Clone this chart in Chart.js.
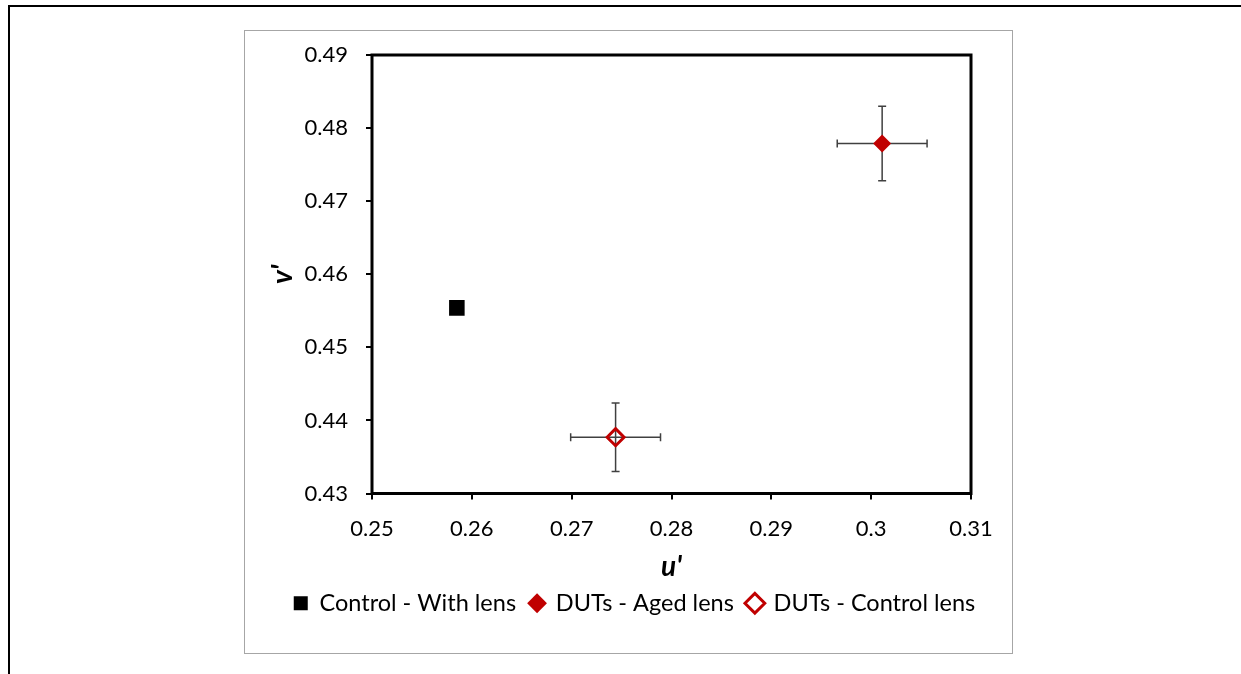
<!DOCTYPE html>
<html>
<head>
<meta charset="utf-8">
<script src="https://cdn.jsdelivr.net/npm/chart.js@4"></script>
<style>
  body { margin: 0; background: #fff; }
  .page { position: relative; width: 1241px; height: 674px; overflow: hidden; }
  .frame { position: absolute; left: 8px; top: 5px; right: -10px; bottom: -10px; border-left: 2px solid #000; border-top: 2px solid #000; }
  .box { position: absolute; left: 244px; top: 30px; width: 767px; height: 622px; border: 1px solid #a6a6a6; }
  canvas { position: absolute; left: 0; top: 0; }
</style>
</head>
<body>
<div class="page">
  <div class="frame"></div>
  <div class="box"></div>
  <canvas id="scatter" width="1241" height="674"></canvas>
</div>
<script>
const seriesNames = ['Control - With lens', 'DUTs - Aged lens', 'DUTs - Control lens']
const uValues = [0.2585, 0.3011, 0.2744]
const vValues = [0.4554, 0.4779, 0.4377]
const uErrors = [0, 0.0045, 0.0045]
const vErrors = [0, 0.0051, 0.0047]
const uTicks = [0.25, 0.26, 0.27, 0.28, 0.29, 0.3, 0.31]
const vTicks = [0.43, 0.44, 0.45, 0.46, 0.47, 0.48, 0.49]

const red = '#c00000'
const font = 'Lato'

// error bars go under the markers so the hollow diamond shows the cross
const errorBars = {
  id: 'errorBars',
  beforeDatasetsDraw(chart) {
    const { ctx, scales: { x, y } } = chart
    ctx.save()
    ctx.strokeStyle = '#404040'
    ctx.lineWidth = 1.5
    seriesNames.forEach((name, i) => {
      if (!uErrors[i] && !vErrors[i]) return
      const cx = x.getPixelForValue(uValues[i])
      const cy = y.getPixelForValue(vValues[i])
      const x0 = x.getPixelForValue(uValues[i] - uErrors[i])
      const x1 = x.getPixelForValue(uValues[i] + uErrors[i])
      const y0 = y.getPixelForValue(vValues[i] + vErrors[i])
      const y1 = y.getPixelForValue(vValues[i] - vErrors[i])
      const cap = 4
      ctx.beginPath()
      ctx.moveTo(x0, cy); ctx.lineTo(x1, cy)
      ctx.moveTo(x0, cy - cap); ctx.lineTo(x0, cy + cap)
      ctx.moveTo(x1, cy - cap); ctx.lineTo(x1, cy + cap)
      ctx.moveTo(cx, y0); ctx.lineTo(cx, y1)
      ctx.moveTo(cx - cap, y0); ctx.lineTo(cx + cap, y0)
      ctx.moveTo(cx - cap, y1); ctx.lineTo(cx + cap, y1)
      ctx.stroke()
    })
    ctx.restore()
  }
}

// black frame round the plot area
const plotFrame = {
  id: 'plotFrame',
  afterDraw(chart) {
    const { ctx, chartArea: a } = chart
    ctx.save()
    ctx.strokeStyle = '#000'
    ctx.lineWidth = 3
    ctx.strokeRect(a.left, a.top, a.right - a.left, a.bottom - a.top)
    ctx.restore()
  }
}

// legend row sits a little right of the page centre
const legendShift = {
  id: 'legendShift',
  afterLayout(chart) {
    const lg = chart.legend
    const dx = 14
    lg.left += dx
    lg.right += dx
    lg.legendHitBoxes.forEach(b => { b.left += dx })
  }
}

const styles = [
  { pointStyle: 'rect', backgroundColor: '#000', borderColor: '#000', borderWidth: 0, radius: 11 },
  { pointStyle: 'rectRot', backgroundColor: red, borderColor: red, borderWidth: 0, radius: 9 },
  { pointStyle: 'rectRot', backgroundColor: 'rgba(0,0,0,0)', borderColor: red, borderWidth: 3, radius: 8.5 }
]

const chart = new Chart(document.getElementById('scatter'), {
  type: 'scatter',
  data: {
    datasets: seriesNames.map((name, i) => ({
      label: name,
      data: [{ x: uValues[i], y: vValues[i] }],
      pointStyle: styles[i].pointStyle,
      pointRadius: styles[i].radius,
      pointHoverRadius: styles[i].radius,
      pointBackgroundColor: styles[i].backgroundColor,
      pointBorderColor: styles[i].borderColor,
      pointBorderWidth: styles[i].borderWidth,
      backgroundColor: styles[i].backgroundColor,
      borderColor: styles[i].borderColor,
      borderWidth: styles[i].borderWidth
    }))
  },
  options: {
    responsive: false,
    animation: false,
    layout: { padding: { left: 0, right: 0, top: 55, bottom: 49 } },
    plugins: {
      tooltip: { enabled: false },
      legend: {
        position: 'bottom',
        labels: {
          usePointStyle: true,
          boxWidth: 14,
          boxHeight: 14,
          padding: 14,
          color: '#000',
          font: { family: font, size: 23.5 }
        }
      }
    },
    scales: {
      x: {
        type: 'linear',
        min: 0.25,
        max: 0.31,
        afterBuildTicks: scale => { scale.ticks = uTicks.map(v => ({ value: v })) },
        afterFit: scale => { scale.height = 84 },
        ticks: { color: '#000', padding: 16, font: { family: font, size: 22 }, callback: v => String(+v.toFixed(2)) },
        grid: { drawOnChartArea: false, tickLength: 6, color: '#000', lineWidth: 2 },
        border: { display: false },
        title: { display: true, text: "u'", color: '#000', padding: { top: 0, bottom: -5.8 }, font: { family: font, size: 28, weight: 'bold', style: 'italic' } }
      },
      y: {
        type: 'linear',
        min: 0.43,
        max: 0.49,
        afterBuildTicks: scale => { scale.ticks = vTicks.map(v => ({ value: v })) },
        afterFit: scale => { scale.width = 372 },
        ticks: { color: '#000', padding: 18, font: { family: font, size: 22 }, callback: v => String(+v.toFixed(2)) },
        grid: { drawOnChartArea: false, tickLength: 6, color: '#000', lineWidth: 2 },
        border: { display: false },
        title: { display: true, text: "v'", color: '#000', padding: { top: 266.2, bottom: 0 }, font: { family: font, size: 28, weight: 'bold', style: 'italic' } }
      },
      // empty right-hand margin beside the plot
      yRight: {
        type: 'linear',
        position: 'right',
        min: 0.43,
        max: 0.49,
        afterFit: scale => { scale.width = 270 },
        ticks: { display: false },
        grid: { display: false },
        border: { display: false }
      }
    }
  },
  plugins: [errorBars, plotFrame, legendShift]
})
</script>
</body>
</html>
